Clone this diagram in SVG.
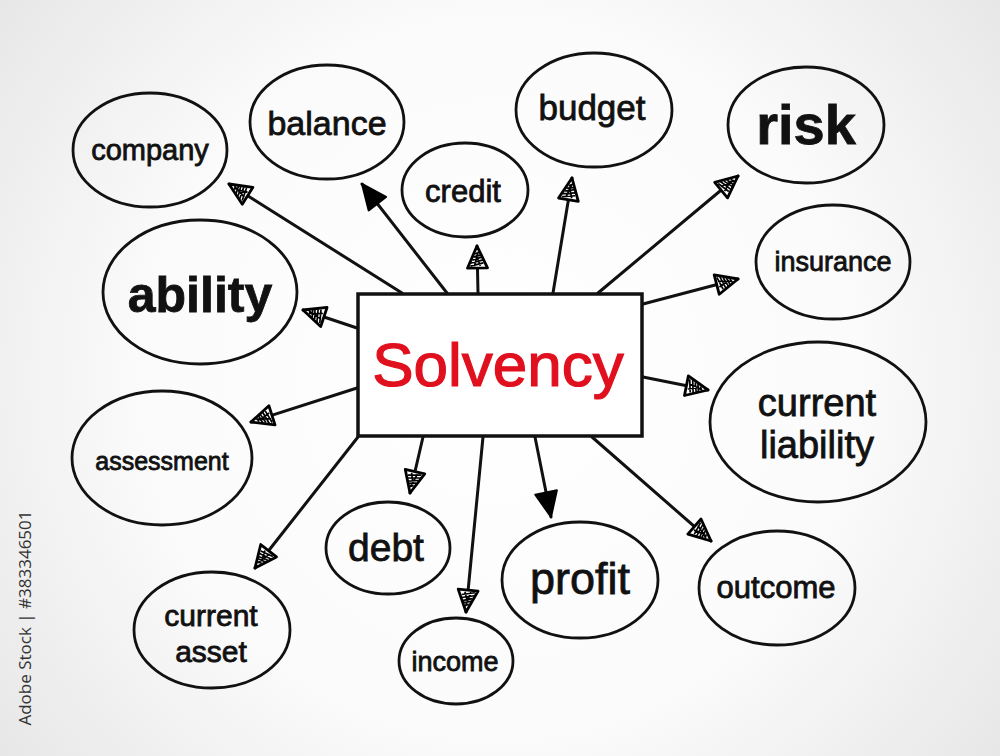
<svg xmlns="http://www.w3.org/2000/svg" width="1000" height="756" viewBox="0 0 1000 756">
<defs>
<radialGradient id="bg" cx="500" cy="378" r="640" gradientUnits="userSpaceOnUse">
<stop offset="0" stop-color="#ffffff"/>
<stop offset="0.55" stop-color="#fbfbfb"/>
<stop offset="1" stop-color="#e6e6e6"/>
</radialGradient>
<marker id="hatch" markerUnits="userSpaceOnUse" viewBox="0 0 30 30" markerWidth="30" markerHeight="30" refX="27" refY="15" orient="auto">
<path d="M5,5 L27,15 L5,25 Z" fill="#fff" stroke="#000" stroke-width="2.8" stroke-linejoin="round"/>
<path d="M7,8 L10,21 M10,8 L13,21 M13,10 L16,20 M16,11 L18,19 M19,13 L21,17 M7,12 L21,16 M7,18 L18,14" stroke="#000" stroke-width="1.7" fill="none"/>
</marker>
<marker id="solid" markerUnits="userSpaceOnUse" viewBox="0 0 32 32" markerWidth="32" markerHeight="32" refX="29" refY="16" orient="auto">
<path d="M4,5 L29,16 L4,27 Z" fill="#000" stroke="#000" stroke-width="2" stroke-linejoin="round"/>
</marker>
</defs>
<style>
.bub{fill:none;stroke:#111;stroke-width:2.8}
.t{font-family:"Liberation Sans","DejaVu Sans",sans-serif;fill:#111;stroke:#111;stroke-width:0.8;text-anchor:middle}
.b{font-weight:bold}
.c{fill:none;stroke:#111;stroke-width:3;stroke-linecap:round}
.h{marker-end:url(#hatch)}
.s{marker-end:url(#solid)}
</style>
<rect width="1000" height="756" fill="url(#bg)"/>
<text x="31" y="618" transform="rotate(-90 31 618)" font-family="'Open Sans','Liberation Sans',sans-serif" font-size="17" fill="#333" text-anchor="middle">Adobe Stock | #383346501</text>

<g id="connectors">
<path class="c h" d="M402,293 L229,184"/>
<path class="c s" d="M447,293 L362,184"/>
<path class="c h" d="M478,293 L477,246"/>
<path class="c h" d="M553,293 L572,178"/>
<path class="c h" d="M598,293 L738,176"/>
<path class="c h" d="M643,304 L738,279"/>
<path class="c h" d="M643,377 L708,390"/>
<path class="c h" d="M357,328 L303,310"/>
<path class="c h" d="M357,388 L251,422"/>
<path class="c h" d="M358,437 L255,568"/>
<path class="c h" d="M423,437 L410,493"/>
<path class="c h" d="M483,437 L466,612"/>
<path class="c s" d="M535,437 L551,517"/>
<path class="c h" d="M592,437 L711,541"/>
</g>

<g id="solvency">
<rect x="358" y="294" width="284" height="142" fill="#fff" stroke="#111" stroke-width="3.5"/>
<text x="498" y="386" font-family="'Liberation Sans','DejaVu Sans',sans-serif" font-size="62" fill="#e0101e" stroke="#e0101e" stroke-width="1.2" text-anchor="middle">Solvency</text>
</g>

<g id="company"><ellipse class="bub" cx="150" cy="150" rx="77" ry="57"/><text class="t" x="150" y="160" font-size="29">company</text></g>
<g id="balance"><ellipse class="bub" cx="327" cy="122" rx="77" ry="57"/><text class="t" x="327" y="135" font-size="34">balance</text></g>
<g id="credit"><ellipse class="bub" cx="465" cy="190" rx="63" ry="47"/><text class="t" x="463" y="202" font-size="31">credit</text></g>
<g id="budget"><ellipse class="bub" cx="594" cy="110" rx="78" ry="57"/><text class="t" x="592" y="120" font-size="35">budget</text></g>
<g id="risk"><ellipse class="bub" cx="806" cy="125" rx="78" ry="58"/><text class="t b" x="806" y="144" font-size="56">risk</text></g>
<g id="ability"><ellipse class="bub" cx="200" cy="292" rx="97" ry="72"/><text class="t b" x="200" y="312" font-size="50">ability</text></g>
<g id="insurance"><ellipse class="bub" cx="833" cy="262" rx="77" ry="57"/><text class="t" x="833" y="271" font-size="27">insurance</text></g>
<g id="current-liability"><ellipse class="bub" cx="818" cy="422" rx="108" ry="80"/><text class="t" x="817" y="416" font-size="38">current</text><text class="t" x="817" y="458" font-size="38">liability</text></g>
<g id="assessment"><ellipse class="bub" cx="162" cy="458" rx="90" ry="67"/><text class="t" x="162" y="470" font-size="25">assessment</text></g>
<g id="debt"><ellipse class="bub" cx="388" cy="548" rx="62" ry="46"/><text class="t" x="386" y="561" font-size="39">debt</text></g>
<g id="profit"><ellipse class="bub" cx="580" cy="580" rx="78" ry="58"/><text class="t" x="580" y="594" font-size="45">profit</text></g>
<g id="outcome"><ellipse class="bub" cx="777" cy="588" rx="78" ry="57"/><text class="t" x="776" y="598" font-size="31">outcome</text></g>
<g id="current-asset"><ellipse class="bub" cx="212" cy="630" rx="78" ry="58"/><text class="t" x="211" y="626" font-size="30">current</text><text class="t" x="211" y="662" font-size="30">asset</text></g>
<g id="income"><ellipse class="bub" cx="456" cy="661" rx="57" ry="43"/><text class="t" x="455" y="671" font-size="27">income</text></g>
</svg>
